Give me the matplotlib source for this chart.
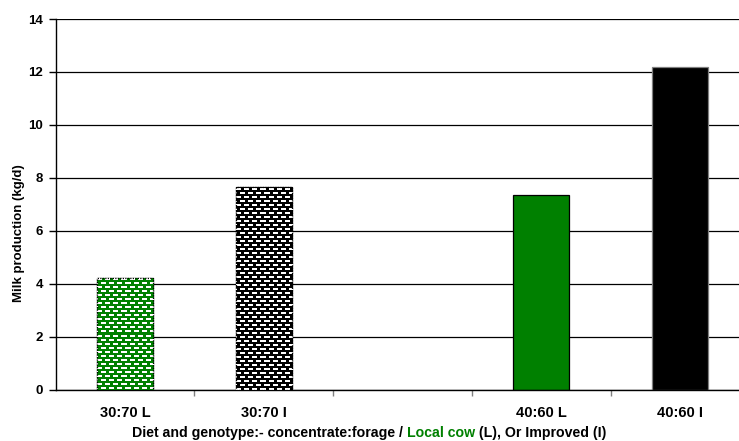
import numpy as np
import matplotlib
matplotlib.use("Agg")
import matplotlib.pyplot as plt
from matplotlib.colors import to_rgb

plt.rcParams["font.family"] = ["Liberation Sans", "DejaVu Sans"]
plt.rcParams["font.weight"] = "bold"

# Milk yield by diet (concentrate:forage) and genotype; the middle slot is left empty
categories = ["30:70 L", "30:70 I", "", "40:60 L", "40:60 I"]
milk_kg_d = [4.23, 7.66, None, 7.37, 12.17]
bar_colors = ["#008000", "#000000", None, "#008000", "#000000"]
bar_patterned = [True, True, False, False, False]
y_ticks = [0, 2, 4, 6, 8, 10, 12, 14]

W, H = 739, 441
fig = plt.figure(figsize=(W / 100, H / 100), dpi=100)
ax = fig.add_axes([55.5 / W, (H - 389.7) / H, (749.5 - 55.5) / W, (389.7 - 19) / H])

ax.set_xlim(-0.5, len(categories) - 0.5)
ax.set_ylim(0, 14)
ax.set_axisbelow(True)
ax.yaxis.grid(True, color="#000000", linewidth=0.9)


def brick_pattern(h, w, fg, period=8, dash=5, row=4, thick=2):
    """White dashed 'brick' fill on a solid colour, one array cell per pixel."""
    img = np.empty((h, w, 3))
    img[:] = to_rgb(fg)
    xs = np.arange(w)
    for r0 in range(1, h, row):
        shift = ((r0 // row) % 2) * (period // 2)
        on = ((xs - shift) % period) < dash
        img[r0:r0 + thick, on] = 1.0
    return img


bar_width = 0.404
for i, (val, col, patt) in enumerate(zip(milk_kg_d, bar_colors, bar_patterned)):
    if val is None:
        continue
    edge = "#000000" if patt or col == "#008000" else "#7f7f7f"
    rect = ax.bar(i, val, width=bar_width, color=col, edgecolor=edge,
                  linewidth=0.9, zorder=2)[0]
    if patt:
        x0, x1 = rect.get_x(), rect.get_x() + rect.get_width()
        (px0, py0), (px1, py1) = ax.transData.transform([(x0, 0), (x1, val)])
        w_px = int(round(px1 - px0))
        h_px = int(round(py1 - py0))
        im = ax.imshow(brick_pattern(h_px, w_px, col), extent=(x0, x1, 0, val),
                       origin="upper", interpolation="nearest", aspect="auto",
                       zorder=3)
        im.set_clip_path(rect)
        ax.bar(i, val, width=bar_width, fill=False, edgecolor="#000000",
               linewidth=0.9, linestyle=(0, (1, 1)), zorder=4)

ax.set_aspect("auto")
ax.set_xlim(-0.5, len(categories) - 0.5)
ax.set_ylim(0, 14)

# category labels centred, tick marks on category boundaries
ax.set_xticks(range(len(categories)))
ax.set_xticklabels(categories, fontsize=10.5, fontweight="bold")
ax.tick_params(axis="x", which="major", length=0, pad=12)
ax.set_xticks(np.arange(0.5, len(categories) - 0.5, 1.0), minor=True)
ax.tick_params(axis="x", which="minor", length=4, width=1, color="#808080",
               direction="out")

ax.set_yticks(y_ticks)
ax.set_yticklabels([str(t) for t in y_ticks], fontsize=9.5, fontweight="bold")
ax.tick_params(axis="y", length=5, width=1, color="#000000", pad=4)

for s in ("top", "right"):
    ax.spines[s].set_visible(False)
for s in ("left", "bottom"):
    ax.spines[s].set_color("#000000")
    ax.spines[s].set_linewidth(1.0)

# y axis title
fig.text(19 / W, 1 - 233 / H, "Milk production (kg/d)", rotation=90,
         ha="center", va="center", fontsize=9.5, fontweight="bold")

# x axis title in coloured pieces
pieces = [("Diet and genotype:- concentrate:forage / ", "#000000"),
          ("Local cow", "#008000"),
          (" (L), Or Improved (I)", "#000000")]
fig.canvas.draw()
renderer = fig.canvas.get_renderer()
texts = [fig.text(0, 1 - 433 / H, s, color=c, fontsize=10.2, fontweight="bold",
                  ha="left", va="center") for s, c in pieces]
widths = [t.get_window_extent(renderer).width for t in texts]
x = 369.5 - sum(widths) / 2
for t, w in zip(texts, widths):
    t.set_x(x / W)
    x += w

fig.savefig("out.png", dpi=100)
